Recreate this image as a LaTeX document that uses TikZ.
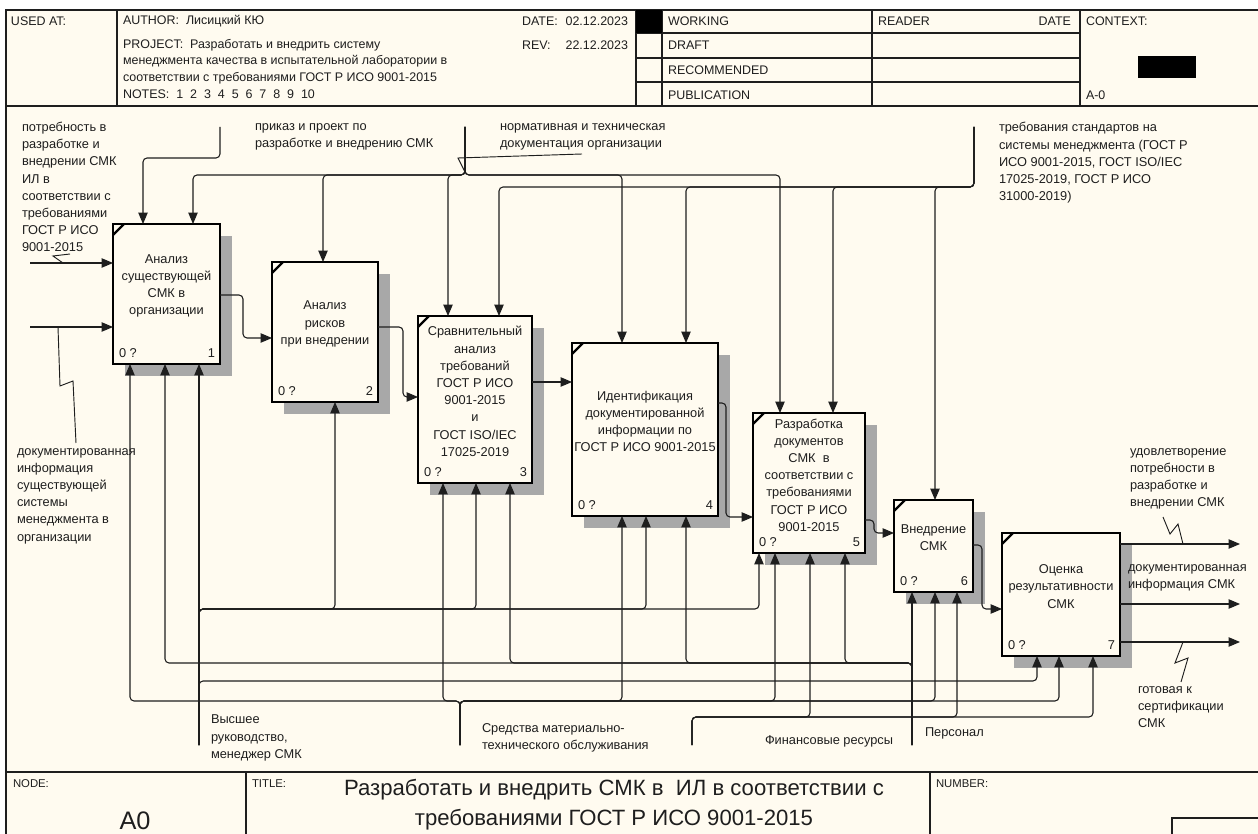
\documentclass[tikz,border=0pt]{standalone}
\usepackage{fontspec}
\setmainfont{Liberation Sans}
\usetikzlibrary{arrows.meta}
\definecolor{cream}{RGB}{255,251,240}
\definecolor{ink}{RGB}{30,30,30}
\definecolor{hatch}{RGB}{168,168,168}
\newcommand\procbox[7]{%
  \fill[hatch] (#2+12,#3+12) rectangle (#4+12,#5+12);
  \node[pbox, minimum width={(#4-#2)*0.75pt}, minimum height={(#5-#3)*0.75pt}] (#1) at ({(#2+#4)/2},{(#3+#5)/2}) {};
  \draw[line width=1.6pt] (#2,#3+11) -- (#2+11,#3);
  \node[align=center] (#1t) at ({(#2+#4)/2},{(#3+#5)/2-8}) {#6};
  \node[anchor=west] (#1z) at (#2+6,#5-11) {0 ?};
  \node[anchor=east] (#1n) at (#4-5,#5-11) {#7};
}
\begin{document}
\begin{tikzpicture}[x=0.75pt,y=-0.75pt,
  every node/.style={inner sep=0pt, outer sep=0pt, font=\fontsize{9.6}{12.9}\selectfont, text=ink},
  hdr/.style={anchor=west, font=\fontsize{9.35}{12.5}\selectfont},
  small/.style={anchor=west, font=\fontsize{8.5}{9.5}\selectfont},
  frame/.style={draw=ink, line width=1.1pt},
  lbl/.style={anchor=west, align=left},
  pbox/.style={draw=black, line width=1.8pt, fill=cream, rectangle},
  con/.style={draw=ink, line width=0.8pt, rounded corners=3pt},
  arr/.style={con, -{Triangle[length=8.5pt,width=7pt]}},
  sq/.style={draw=ink, line width=0.7pt},
]
\useasboundingbox (0,0) rectangle (1258,834);
\clip (0,0) rectangle (1258,834);
\fill[white] (0,0) rectangle (1258,834);
\fill[cream] (6,10) rectangle (1268,840);
\draw[frame] (6,10) rectangle (1268,840);

% header
\draw[frame] (6,106) -- (1268,106);
\foreach \x in {117,636,662,872,1080} \draw[frame] (\x,10) -- (\x,106);
\foreach \y in {33,58,82} \draw[frame] (636,\y) -- (1080,\y);
\fill[black] (636,10) rectangle (662,33);
\fill[black] (1138,56) rectangle (1196,78);
\node[hdr] (hUsed) at (11,21) {USED AT:};
\node[hdr] (hAuth) at (123,21) {AUTHOR:\ \ Лисицкий КЮ};
\node[hdr] (hDate) at (522,21) {DATE:};
\node[hdr,anchor=east] (hDateV) at (628,21) {02.12.2023};
\node[hdr] (hProj) at (123,45) {PROJECT:\ \ Разработать и внедрить систему};
\node[hdr] (hRev) at (522,45) {REV:};
\node[hdr,anchor=east] (hRevV) at (628,45) {22.12.2023};
\node[hdr] (hProj2) at (123,61) {менеджмента качества в испытательной лаборатории в};
\node[hdr] (hProj3) at (123,78) {соответствии с требованиями ГОСТ Р ИСО 9001-2015};
\node[hdr] (hNotes) at (123,94) {NOTES:\ \ 1\ \ 2\ \ 3\ \ 4\ \ 5\ \ 6\ \ 7\ \ 8\ \ 9\ \ 10};
\node[hdr] (hW) at (668,21) {WORKING};
\node[hdr] (hD) at (668,45) {DRAFT};
\node[hdr] (hR) at (668,70) {RECOMMENDED};
\node[hdr] (hP) at (668,95) {PUBLICATION};
\node[hdr] (hReader) at (878,21) {READER};
\node[hdr,anchor=east] (hRD) at (1071,21) {DATE};
\node[hdr] (hCtx) at (1086,21) {CONTEXT:};
\node[hdr] (hA) at (1086,95) {A-0};

% footer
\draw[frame] (6,772) -- (1268,772);
\draw[frame] (246,772) -- (246,840);
\draw[frame] (930,772) -- (930,840);
\draw[frame] (1172,818) rectangle (1268,840);
\node[small] (fNode) at (13,784) {NODE:};
\node[small] (fTitle) at (252,784) {TITLE:};
\node[small] (fNum) at (936,784) {NUMBER:};
\node[font=\fontsize{19}{22}\selectfont] (fA0) at (135,821) {A0};
\node[align=center, font=\fontsize{16.6}{22.5}\selectfont] (fT) at (614,805) {Разработать и внедрить СМК в\ \ ИЛ в соответствии с\\требованиями ГОСТ Р ИСО 9001-2015};

% boxes
\procbox{b1}{113}{224}{220}{364}{Анализ\\существующей\\СМК в\\организации}{1}
\procbox{b2}{272}{262}{378}{402}{Анализ\\рисков\\при внедрении}{2}
\procbox{b3}{418}{316}{532}{483}{Сравнительный\\анализ\\требований\\ГОСТ Р ИСО\\9001-2015\\и\\ГОСТ ISO/IEC\\17025-2019}{3}
\procbox{b4}{572}{343}{718}{516}{Идентификация\\документированной\\информации по\\ГОСТ Р ИСО 9001-2015}{4}
\procbox{b5}{753}{413}{865}{553}{Разработка\\документов\\СМК\ \ в\\соответствии с\\требованиями\\ГОСТ Р ИСО\\9001-2015}{5}
\procbox{b6}{894}{500}{973}{592}{Внедрение\\СМК}{6}
\procbox{b7}{1002}{533}{1120}{656}{Оценка\\результативности\\СМК}{7}

% free ends
\coordinate (cA) at (220,127);
\coordinate (cB) at (465,127);
\coordinate (cC) at (974,127);
\coordinate (iA) at (30,263);
\coordinate (iB) at (30,327);
\coordinate (oA) at (1240,544);
\coordinate (oB) at (1240,604);
\coordinate (oC) at (1240,642);
\coordinate (mV) at (199,745);
\coordinate (mS) at (460,745);
\coordinate (mF) at (692,745);
\coordinate (mP) at (912,745);

% controls
\draw[arr] (cA) -- (220,158) -- (143,158) -- (143,0 |- b1.north);
\foreach \x/\b in {193/b1,323/b2,448/b3,622/b4,780/b5}
  \draw[arr] (cB) -- (465,175) -- (\x,175) -- (\x,0 |- \b.north);
\foreach \x/\b in {499/b3,686/b4,833/b5,935/b6}
  \draw[arr] (cC) -- (974,187) -- (\x,187) -- (\x,0 |- \b.north);

% inputs
\draw[arr] (iA) -- (iA -| b1.west);
\draw[arr] (iB) -- (iB -| b1.west);

% box to box
\draw[arr] (b1.east |- 0,295) -- (243,295) -- (243,338) -- (b2.west |- 0,338);
\draw[arr] (b2.east |- 0,327) -- (403,327) -- (403,397) -- (b3.west |- 0,397);
\draw[arr] (b3.east |- 0,382) -- (b4.west |- 0,382);
\draw[arr] (b4.east |- 0,403) -- (726,403) -- (726,517) -- (b5.west |- 0,517);
\draw[arr] (b5.east |- 0,520) -- (874,520) -- (874,533) -- (b6.west |- 0,533);
\draw[arr] (b6.east |- 0,545) -- (982,545) -- (982,609) -- (b7.west |- 0,609);

% outputs
\draw[arr] (oA -| b7.east) -- (oA);
\draw[arr] (oB -| b7.east) -- (oB);
\draw[arr] (oC -| b7.east) -- (oC);

% mechanisms
\draw[arr] (mV) -- (199,0 |- b1.south);
\foreach \x/\b in {335/b2,476/b3,646/b4,759/b5}
  \draw[arr] (mV) -- (199,609) -- (\x,609) -- (\x,0 |- \b.south);
\draw[arr] (mV) -- (199,681) -- (1037,681) -- (1037,0 |- b7.south);
\foreach \x/\b in {130/b1,443/b3,622/b4,775/b5,935/b6,1059/b7}
  \draw[arr] (mS) -- (460,701) -- (\x,701) -- (\x,0 |- \b.south);
\foreach \x/\b in {810/b5,957/b6,1093/b7}
  \draw[arr] (mF) -- (692,717) -- (\x,717) -- (\x,0 |- \b.south);
\draw[arr] (mP) -- (912,0 |- b6.south);
\foreach \x/\b in {845/b5,686/b4,510/b3,165/b1}
  \draw[arr] (mP) -- (912,663) -- (\x,663) -- (\x,0 |- \b.south);

% labels
\node[lbl] (L1) at (22,187) {потребность в\\разработке и\\внедрении СМК\\ИЛ в\\соответствии с\\требованиями\\ГОСТ Р ИСО\\9001-2015};
\node[lbl] (L2) at (255,137) {приказ и проект по\\разработке и внедрению СМК};
\node[lbl] (L3) at (500,137) {нормативная и техническая\\документация организации};
\node[lbl] (L4) at (999,163) {требования стандартов на\\системы менеджмента (ГОСТ Р\\ИСО 9001-2015, ГОСТ ISO/IEC\\17025-2019, ГОСТ Р ИСО\\31000-2019)};
\node[lbl] (L5) at (17,496) {документированная\\информация\\существующей\\системы\\менеджмента в\\организации};
\node[lbl] (L6) at (211,738) {Высшее\\руководство,\\менеджер СМК};
\node[lbl] (L7) at (482,738) {Средства материально-\\технического обслуживания};
\node[lbl] (L8) at (765,741) {Финансовые ресурсы};
\node[lbl] (L9) at (925,733) {Персонал};
\node[lbl] (L10) at (1130,479) {удовлетворение\\потребности в\\разработке и\\внедрении СМК};
\node[lbl] (L11) at (1128,578) {документированная\\информация СМК};
\node[lbl] (L12) at (1138,707) {готовая к\\сертификации\\СМК};

% squiggles
\draw[sq] (70,254) -- (53,256) -- (63,263);
\draw[sq] (58,327) -- (60,386) -- (73,381) -- (76,443);
\draw[sq] (582,154) -- (458,158) -- (465,172);
\draw[sq] (1163,517) -- (1170,534) -- (1178,524) -- (1183,544);
\draw[sq] (1183,642) -- (1175,663) -- (1188,658) -- (1181,682);
\end{tikzpicture}
\end{document}
